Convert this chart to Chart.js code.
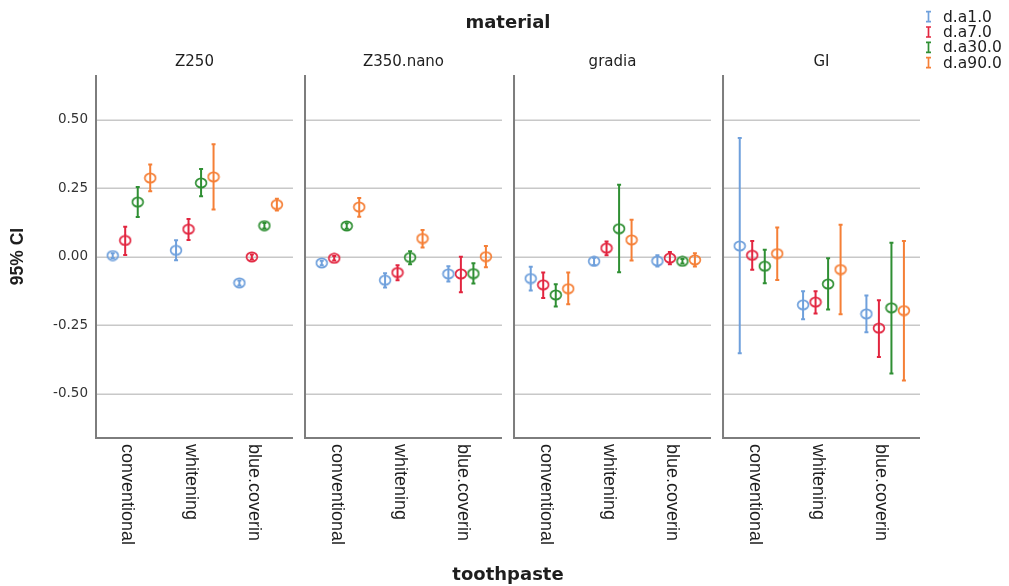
<!DOCTYPE html>
<html>
<head>
<meta charset="utf-8">
<script src="https://cdn.jsdelivr.net/npm/chart.js@4/dist/chart.umd.min.js"></script>
<style>
  html, body { margin: 0; padding: 0; background: #ffffff; }
  #wrap { width: 1009px; height: 586px; position: relative; }
</style>
</head>
<body>
<div id="wrap"><canvas id="c" width="1009" height="586"></canvas></div>
<script>
// ---- data ----
const materials = ['Z250', 'Z350.nano', 'gradia', 'GI'];
const toothpastes = ['conventional', 'whitening', 'blue.coverin'];
const seriesNames = ['d.a1.0', 'd.a7.0', 'd.a30.0', 'd.a90.0'];
const yTicks = [-0.5, -0.25, 0, 0.25, 0.5];

// order: Z250(conv, whit, blue), Z350.nano(...), gradia(...), GI(...)
const meanA1 = [0.005, 0.024, -0.095, -0.022, -0.085, -0.062, -0.079, -0.016, -0.015, 0.040, -0.175, -0.208];
const lowA1  = [-0.004, -0.012, -0.104, -0.030, -0.112, -0.090, -0.123, -0.030, -0.035, -0.352, -0.228, -0.275];
const highA1 = [0.013, 0.061, -0.086, -0.014, -0.060, -0.034, -0.036, -0.003, 0.006, 0.434, -0.125, -0.141];

const meanA7 = [0.060, 0.101, 0.000, -0.005, -0.057, -0.062, -0.102, 0.032, -0.004, 0.006, -0.165, -0.260];
const lowA7  = [0.007, 0.062, -0.009, -0.013, -0.085, -0.129, -0.150, 0.006, -0.027, -0.047, -0.207, -0.365];
const highA7 = [0.110, 0.138, 0.009, 0.003, -0.030, 0.001, -0.057, 0.056, 0.018, 0.058, -0.125, -0.158];

const meanA30 = [0.200, 0.270, 0.114, 0.113, -0.002, -0.061, -0.139, 0.103, -0.016, -0.034, -0.099, -0.186];
const lowA30  = [0.146, 0.221, 0.104, 0.103, -0.027, -0.097, -0.181, -0.056, -0.024, -0.096, -0.192, -0.426];
const highA30 = [0.255, 0.321, 0.124, 0.123, 0.021, -0.023, -0.100, 0.263, -0.008, 0.026, -0.005, 0.052];

const meanA90 = [0.288, 0.292, 0.191, 0.182, 0.067, 0.001, -0.116, 0.062, -0.011, 0.012, -0.046, -0.196];
const lowA90  = [0.240, 0.173, 0.169, 0.147, 0.034, -0.038, -0.173, -0.013, -0.035, -0.084, -0.209, -0.451];
const highA90 = [0.337, 0.411, 0.212, 0.215, 0.098, 0.040, -0.057, 0.136, 0.013, 0.107, 0.117, 0.058];

const seriesColors = ['#6fa0dc', '#e2253f', '#2f8f33', '#f57f36'];

// ---- layout helpers (category axis units) ----
const PANEL_STRIDE = 3.3;
const PANEL_MIN = -0.56, PANEL_MAX = 2.55;
const offsets = [-0.296, -0.099, 0.099, 0.296];

function ellipseImage(color) {
  const cv = document.createElement('canvas');
  cv.width = 14; cv.height = 12;
  const g = cv.getContext('2d');
  g.strokeStyle = color;
  g.lineWidth = 1.7;
  g.beginPath();
  g.ellipse(7, 6, 5.4, 4.6, 0, 0, Math.PI * 2);
  g.stroke();
  return cv;
}

const allMeans = [meanA1, meanA7, meanA30, meanA90];
const allLows = [lowA1, lowA7, lowA30, lowA90];
const allHighs = [highA1, highA7, highA30, highA90];

const datasets = seriesNames.map((name, s) => {
  const pts = [];
  materials.forEach((m, p) => {
    toothpastes.forEach((t, c) => {
      const i = p * toothpastes.length + c;
      pts.push({ x: p * PANEL_STRIDE + c + offsets[s], y: allMeans[s][i], lo: allLows[s][i], hi: allHighs[s][i] });
    });
  });
  return {
    label: name,
    data: pts,
    showLine: false,
    borderColor: seriesColors[s],
    backgroundColor: seriesColors[s],
    pointStyle: ellipseImage(seriesColors[s]),
    pointRadius: 5,
    pointHoverRadius: 5
  };
});

const panelPlugin = {
  id: 'panels',
  beforeDatasetsDraw(chart) {
    const { ctx, chartArea } = chart;
    const xs = chart.scales.x, ys = chart.scales.y;
    ctx.save();
    materials.forEach((m, p) => {
      const l = xs.getPixelForValue(p * PANEL_STRIDE + PANEL_MIN);
      const r = xs.getPixelForValue(p * PANEL_STRIDE + PANEL_MAX);
      ctx.strokeStyle = '#c8c8c8';
      ctx.lineWidth = 1.5;
      yTicks.forEach(v => {
        const y = Math.round(ys.getPixelForValue(v)) + 0.25;
        ctx.beginPath(); ctx.moveTo(l, y); ctx.lineTo(r, y); ctx.stroke();
      });
      ctx.strokeStyle = '#7d7d7d';
      ctx.lineWidth = 2;
      ctx.beginPath();
      ctx.moveTo(l, chartArea.top);
      ctx.lineTo(l, chartArea.bottom);
      ctx.lineTo(r, chartArea.bottom);
      ctx.stroke();
    });
    // error bars
    chart.data.datasets.forEach((ds, s) => {
      ctx.strokeStyle = ds.borderColor;
      ctx.lineWidth = 2;
      ds.data.forEach(pt => {
        const x = xs.getPixelForValue(pt.x);
        const yl = ys.getPixelForValue(pt.lo);
        const yh = ys.getPixelForValue(pt.hi);
        ctx.beginPath();
        ctx.moveTo(x, yl); ctx.lineTo(x, yh);
        ctx.moveTo(x - 2, yl); ctx.lineTo(x + 2, yl);
        ctx.moveTo(x - 2, yh); ctx.lineTo(x + 2, yh);
        ctx.stroke();
      });
    });
    ctx.restore();
  },
  afterDraw(chart) {
    const { ctx, chartArea } = chart;
    const xs = chart.scales.x;
    ctx.save();
    ctx.fillStyle = '#1e1e1e';
    // overall panel title
    ctx.font = 'bold 18px "DejaVu Sans"';
    ctx.textAlign = 'center';
    ctx.textBaseline = 'middle';
    ctx.fillText('material', (chartArea.left + chartArea.right) / 2, 23);
    // panel titles
    ctx.font = '15px "DejaVu Sans"';
    ctx.textBaseline = 'alphabetic';
    materials.forEach((m, p) => {
      const l = xs.getPixelForValue(p * PANEL_STRIDE + PANEL_MIN);
      const r = xs.getPixelForValue(p * PANEL_STRIDE + PANEL_MAX);
      ctx.fillText(m, (l + r) / 2, 66);
    });
    // category labels, rotated clockwise
    ctx.font = '18px "Liberation Sans"';
    ctx.textAlign = 'left';
    ctx.textBaseline = 'middle';
    materials.forEach((m, p) => {
      toothpastes.forEach((t, c) => {
        const x = xs.getPixelForValue(p * PANEL_STRIDE + c);
        ctx.save();
        ctx.translate(x - 4, chartArea.bottom + 6);
        ctx.rotate(Math.PI / 2);
        ctx.fillText(t, 0, 0);
        ctx.restore();
      });
    });
    // legend
    ctx.font = '15.5px "DejaVu Sans"';
    seriesNames.forEach((n, s) => {
      const y = 16.7 + s * 15.3;
      ctx.strokeStyle = seriesColors[s];
      ctx.lineWidth = 1.7;
      ctx.beginPath();
      ctx.moveTo(928.5, y - 5); ctx.lineTo(928.5, y + 5);
      ctx.moveTo(926, y - 5); ctx.lineTo(931, y - 5);
      ctx.moveTo(926, y + 5); ctx.lineTo(931, y + 5);
      ctx.stroke();
      ctx.fillStyle = '#1e1e1e';
      ctx.fillText(n, 943, y + 1);
    });
    ctx.restore();
  }
};

new Chart(document.getElementById('c'), {
  type: 'scatter',
  data: { datasets },
  options: {
    responsive: false,
    animation: false,
    devicePixelRatio: 1,
    layout: { padding: { top: 75, right: 89, left: 0, bottom: 0 } },
    plugins: { legend: { display: false }, tooltip: { enabled: false }, title: { display: false } },
    events: [],
    scales: {
      x: {
        type: 'linear',
        min: PANEL_MIN,
        max: (materials.length - 1) * PANEL_STRIDE + PANEL_MAX,
        grid: { display: false, drawTicks: false },
        border: { display: false },
        ticks: { display: false },
        title: { display: true, text: 'toothpaste', color: '#1e1e1e', font: { family: 'DejaVu Sans', size: 18, weight: 'bold' }, padding: { top: 0, bottom: 0 } },
        afterFit(scale) { scale.height = 148; }
      },
      y: {
        type: 'linear',
        min: -0.661,
        max: 0.664,
        grid: { display: false, drawTicks: false },
        border: { display: false },
        afterBuildTicks(scale) { scale.ticks = yTicks.map(v => ({ value: v })); },
        ticks: {
          padding: 8,
          color: '#333333',
          font: { family: 'DejaVu Sans', size: 13.5 },
          callback: v => Number(v).toFixed(2)
        },
        title: { display: true, text: '95% CI', color: '#1e1e1e', font: { family: 'Liberation Sans', size: 17.5, weight: 'bold' }, padding: { top: 8, bottom: 0 } },
        afterFit(scale) { scale.width = 96; }
      }
    }
  },
  plugins: [panelPlugin]
});
</script>
</body>
</html>
